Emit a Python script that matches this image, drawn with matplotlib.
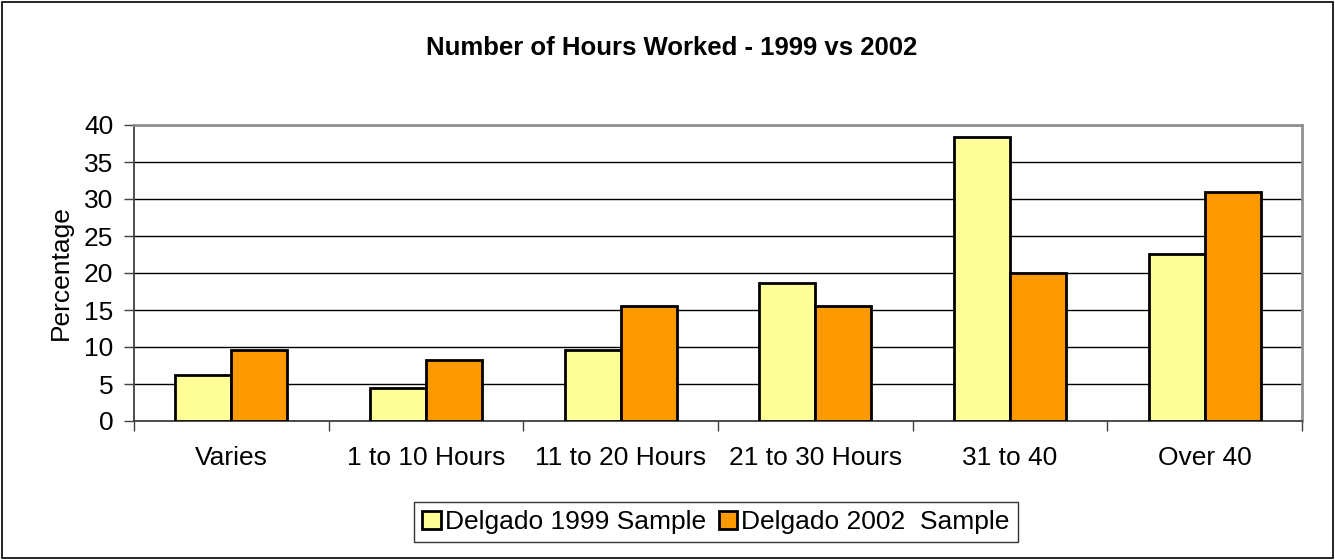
import numpy as np
import matplotlib.pyplot as plt
from matplotlib.patches import Rectangle

plt.rcParams['font.family'] = ['Liberation Sans', 'DejaVu Sans']

categories = ['Varies', '1 to 10 Hours', '11 to 20 Hours', '21 to 30 Hours', '31 to 40', 'Over 40']
delgado_1999 = [6.2, 4.5, 9.6, 18.6, 38.4, 22.6]
delgado_2002 = [9.6, 8.3, 15.6, 15.6, 20.0, 30.9]

fig = plt.figure(figsize=(13.35, 5.6), dpi=100)
ax = fig.add_axes([134/1335, 1-421/560, (1302-134)/1335, (421-125)/560])

x = np.arange(len(categories))
w = 0.288
ax.bar(x - w/2, delgado_1999, w, color='#FFFF99', edgecolor='black', linewidth=2,
       label='Delgado 1999 Sample', zorder=3)
ax.bar(x + w/2, delgado_2002, w, color='#FF9900', edgecolor='black', linewidth=2,
       label='Delgado 2002  Sample', zorder=3)

ax.set_xlim(-0.5, len(categories) - 0.5)
ax.set_ylim(0, 40)
ax.set_yticks(np.arange(0, 41, 5))
ax.yaxis.grid(True, color='black', linewidth=1)
ax.set_axisbelow(True)

# category labels between boundary ticks
ax.set_xticks(np.arange(-0.5, len(categories), 1.0))
ax.set_xticklabels([])
ax.set_xticks(x, minor=True)
ax.set_xticklabels(categories, minor=True, fontsize=19)
ax.tick_params(axis='x', which='minor', length=0, pad=18)
ax.tick_params(axis='x', which='major', length=7, width=1, color='#404040', direction='out')
ax.tick_params(axis='y', length=7, width=1, color='#404040', labelsize=19, pad=8)

for s in ['top', 'right']:
    ax.spines[s].set_color('#909090')
    ax.spines[s].set_linewidth(2)
for s in ['left', 'bottom']:
    ax.spines[s].set_color('#404040')
    ax.spines[s].set_linewidth(1.3)

ax.set_ylabel('Percentage', fontsize=19, labelpad=8)
fig.text(0.5031, 1-48/560, 'Number of Hours Worked - 1999 vs 2002', ha='center', va='center',
         fontsize=18.5, fontweight='bold')

leg = fig.legend(loc='center', bbox_to_anchor=(716/1335, 1-522/560), ncol=2, fontsize=19,
                 frameon=True, fancybox=False, edgecolor='black', handlelength=0.7,
                 handleheight=0.7, handletextpad=0.15, columnspacing=0.5, borderpad=0.3,
                 borderaxespad=0)
leg.get_frame().set_linewidth(1)

# outer chart border
fig.patches.append(Rectangle((2/1335, 2/560), 1331/1335, 556/560, transform=fig.transFigure,
                             fill=False, edgecolor='black', linewidth=1.2))

fig.savefig('out.png', dpi=100)
